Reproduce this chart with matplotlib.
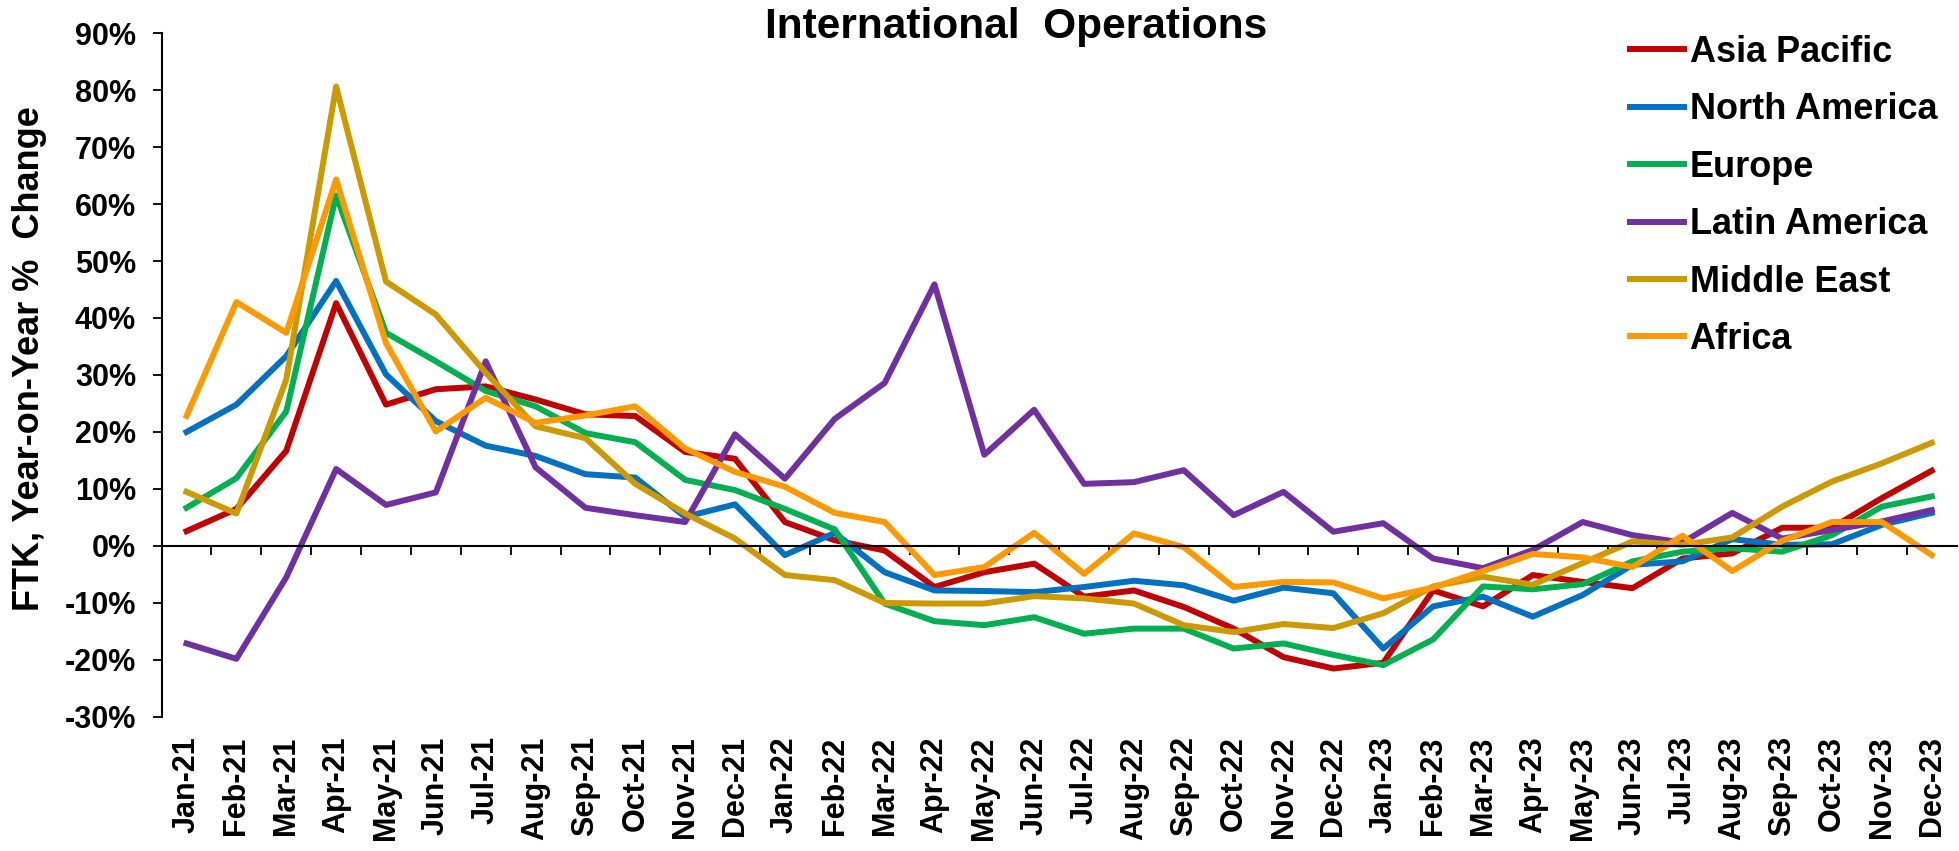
import numpy as np
import matplotlib
matplotlib.use("Agg")
import matplotlib.pyplot as plt
from matplotlib.ticker import FuncFormatter

# month labels on the x axis
months = ["Jan-21", "Feb-21", "Mar-21", "Apr-21", "May-21", "Jun-21", "Jul-21", "Aug-21",
          "Sep-21", "Oct-21", "Nov-21", "Dec-21", "Jan-22", "Feb-22", "Mar-22", "Apr-22",
          "May-22", "Jun-22", "Jul-22", "Aug-22", "Sep-22", "Oct-22", "Nov-22", "Dec-22",
          "Jan-23", "Feb-23", "Mar-23", "Apr-23", "May-23", "Jun-23", "Jul-23", "Aug-23",
          "Sep-23", "Oct-23", "Nov-23", "Dec-23"]

# FTK year-on-year % change
asia_pacific = [2.6, 6.5, 16.7, 42.6, 24.8, 27.5, 28.0, 25.7, 23.1, 22.8, 16.5, 15.3,
                4.2, 1.0, -0.8, -7.2, -4.6, -3.1, -8.9, -7.8, -10.7, -14.5, -19.5, -21.5,
                -20.5, -7.8, -10.6, -5.1, -6.3, -7.4, -2.2, -1.3, 3.2, 3.2, 8.4, 13.2]
north_america = [20.0, 24.8, 33.3, 46.5, 30.1, 21.9, 17.6, 15.8, 12.6, 12.0, 5.1, 7.3,
                 -1.6, 2.3, -4.6, -7.8, -7.9, -8.1, -7.2, -6.1, -6.9, -9.6, -7.3, -8.3,
                 -18.0, -10.6, -8.9, -12.4, -8.6, -3.3, -2.7, 1.2, 0.2, 0.3, 3.7, 5.8]
europe = [6.7, 11.9, 23.6, 61.5, 37.4, 32.4, 27.2, 24.5, 19.8, 18.2, 11.6, 9.8,
          6.5, 2.9, -10.1, -13.2, -13.9, -12.5, -15.4, -14.5, -14.5, -18.0, -17.1, -19.1,
          -20.9, -16.4, -7.1, -7.6, -6.7, -2.7, -1.0, -0.4, -1.0, 1.9, 6.9, 8.7]
latin_america = [-17.1, -19.8, -5.5, 13.5, 7.2, 9.4, 32.4, 13.8, 6.7, 5.4, 4.2, 19.6,
                 11.8, 22.3, 28.6, 45.9, 16.0, 23.9, 10.9, 11.2, 13.3, 5.4, 9.5, 2.5,
                 4.0, -2.2, -3.9, -0.7, 4.2, 1.9, 0.6, 5.8, 1.3, 2.8, 4.3, 6.3]
middle_east = [9.5, 5.7, 29.2, 80.6, 46.4, 40.6, 30.4, 21.0, 18.9, 10.9, 5.7, 1.3,
               -5.1, -6.0, -10.0, -10.1, -10.1, -8.8, -9.2, -10.1, -13.9, -15.1, -13.7, -14.4,
               -11.8, -7.1, -5.4, -6.8, -3.0, 0.8, 0.2, 1.5, 6.9, 11.3, 14.5, 18.1]
africa = [22.8, 42.8, 37.4, 64.3, 35.6, 20.1, 26.0, 21.6, 22.9, 24.5, 17.1, 13.0,
          10.4, 5.8, 4.2, -5.1, -3.7, 2.3, -4.9, 2.2, -0.2, -7.2, -6.3, -6.4,
          -9.2, -7.3, -4.4, -1.4, -2.0, -3.7, 1.8, -4.4, 0.9, 4.2, 4.2, -1.6]

series_names = ["Asia Pacific", "North America", "Europe", "Latin America", "Middle East", "Africa"]
series_data = [asia_pacific, north_america, europe, latin_america, middle_east, africa]
series_colors = ["#C00000", "#0070C0", "#00B050", "#7030A0", "#CC9900", "#FF9900"]

plt.rcParams["font.family"] = ["Liberation Sans", "DejaVu Sans"]
plt.rcParams["font.weight"] = "bold"

fig = plt.figure(figsize=(19.59, 8.51), dpi=100)
ax = fig.add_axes([0.0825, 0.1575, 0.9163, 0.8037])

x = np.arange(len(months))
for name, vals, col in zip(series_names, series_data, series_colors):
    ax.plot(x, vals, color=col, linewidth=4.3, label=name)

# axis limits and ticks
ax.set_xlim(-0.5, len(months) - 0.5)
ax.set_ylim(-30, 90)
ax.set_yticks(np.arange(-30, 91, 10))
ax.yaxis.set_major_formatter(FuncFormatter(lambda v, p: "{:.0f}%".format(v)))
ax.tick_params(axis="y", direction="out", length=6.5, width=1.3, labelsize=22, pad=12)

# category axis crosses at zero, labels stay at the bottom
ax.spines["bottom"].set_position(("data", 0))
ax.spines["bottom"].set_linewidth(1.5)
ax.spines["left"].set_linewidth(1.5)
ax.spines["top"].set_visible(False)
ax.spines["right"].set_visible(False)
ax.set_xticks(x)
ax.set_xticklabels(months, rotation=90, fontsize=22, fontweight="bold")
ax.set_xticks(np.arange(0.5, len(months) - 1, 1), minor=True)
ax.tick_params(axis="x", which="major", length=0, pad=137)
ax.tick_params(axis="x", which="minor", direction="out", length=6.5, width=1.3)

fig.text(30 / 1959, 1 - 359 / 851, "FTK, Year-on-Year %  Change", rotation=90,
         ha="center", va="center", fontsize=26, fontweight="bold")

fig.text(0.5187, 1 - 38 / 851, "International  Operations", ha="center", va="baseline",
         fontsize=30.5, fontweight="bold")

leg = ax.legend(loc="upper left", bbox_to_anchor=(1630 / 1959, 1 - 35 / 851),
                bbox_transform=fig.transFigure, frameon=False, fontsize=26,
                handlelength=1.5, handletextpad=0.15, labelspacing=0.62, borderpad=0,
                borderaxespad=0)
for t in leg.get_texts():
    t.set_fontweight("bold")

plt.savefig("out.png", dpi=100)
